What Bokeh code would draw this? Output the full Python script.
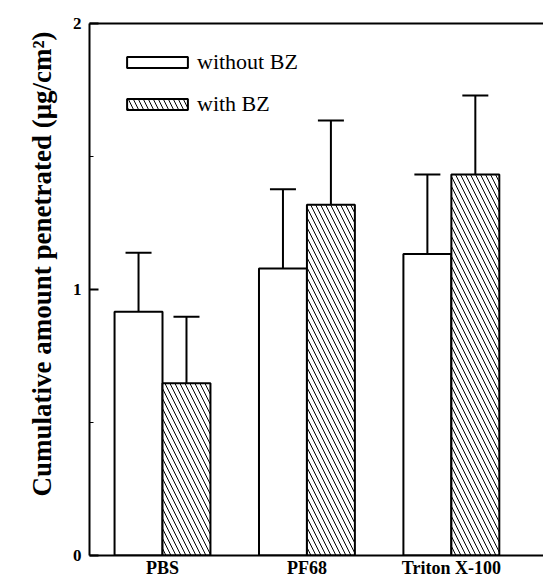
from bokeh.plotting import figure
from bokeh.models import (Range1d, FixedTicker, LinearAxis, Legend, LegendItem,
                          Title, ColumnDataSource, Whisker, TeeHead)
from bokeh.embed import file_html
from bokeh.resources import INLINE

# ---- data ----
categories = ["PBS", "PF68", "Triton X-100"]
without_bz = [0.916, 1.079, 1.133]
without_bz_err = [0.222, 0.298, 0.299]
with_bz = [0.648, 1.319, 1.432]
with_bz_err = [0.250, 0.316, 0.297]
y_ticks = [0, 1, 2]
y_minor_ticks = [0.5, 1.5]
series_names = ["without BZ", "with BZ"]

SERIF = "Liberation Serif"
BAR_W = 0.332
pos = [i + 1 for i in range(len(categories))]

p = figure(width=543, height=580, output_backend="svg", toolbar_location=None,
           x_range=Range1d(0.4945, 3.638), y_range=Range1d(0, 2))
p.min_border_left = 89
p.min_border_right = 0
p.min_border_top = 23
p.min_border_bottom = 0
p.outline_line_color = None
p.grid.visible = False
p.background_fill_color = "white"

src_wo = ColumnDataSource(dict(
    x=[v - BAR_W / 2 for v in pos], top=without_bz,
    up=[a + b for a, b in zip(without_bz, without_bz_err)]))
src_w = ColumnDataSource(dict(
    x=[v + BAR_W / 2 for v in pos], top=with_bz,
    up=[a + b for a, b in zip(with_bz, with_bz_err)]))

r_wo = p.vbar(x="x", top="top", bottom=0, width=BAR_W, source=src_wo,
              fill_color="white", line_color="black", line_width=2)
r_w = p.vbar(x="x", top="top", bottom=0, width=BAR_W, source=src_w,
             fill_color="white", line_color="black", line_width=2,
             hatch_pattern="\\", hatch_color="black", hatch_scale=10, hatch_weight=1)

for src in (src_wo, src_w):
    wk = Whisker(base="x", lower="top", upper="up", source=src,
                 line_color="black", line_width=2,
                 upper_head=TeeHead(size=26, line_width=2, line_color="black"),
                 lower_head=None, level="underlay")
    p.add_layout(wk)

# y axis
ya = p.yaxis[0]
ya.ticker = FixedTicker(ticks=y_ticks, minor_ticks=y_minor_ticks)
ya.major_tick_in = 9
ya.major_tick_out = 0
ya.minor_tick_in = 4
ya.minor_tick_out = 0
ya.axis_line_width = 2
ya.major_tick_line_width = 2
ya.minor_tick_line_width = 1
ya.major_label_text_font = SERIF
ya.major_label_text_font_style = "bold"
ya.major_label_text_font_size = "17px"
ya.major_label_text_color = "black"
ya.major_label_standoff = 8

# x axis
xa = p.xaxis[0]
xa.ticker = FixedTicker(ticks=pos)
xa.major_label_overrides = {v: c for v, c in zip(pos, categories)}
xa.major_tick_line_color = None
xa.major_tick_in = 0
xa.major_tick_out = 0
xa.minor_tick_line_color = None
xa.minor_tick_in = 0
xa.minor_tick_out = 0
xa.axis_line_width = 2
xa.axis_label_standoff = 0
xa.major_label_text_font = SERIF
xa.major_label_text_font_style = "bold"
xa.major_label_text_font_size = "18px"
xa.major_label_text_color = "black"
xa.major_label_standoff = 2

# top frame line
top_ax = LinearAxis(ticker=FixedTicker(ticks=[]), axis_line_width=2,
                    major_tick_line_color=None, minor_tick_line_color=None,
                    major_tick_in=0, major_tick_out=0,
                    minor_tick_in=0, minor_tick_out=0,
                    major_label_text_font_size="0px")
p.add_layout(top_ax, "above")

# y axis title
ttl = Title(text="Cumulative amount  penetrated (\u03bcg/cm\u00b2)", align="left",
            offset=59, standoff=26, text_font=SERIF, text_font_style="bold",
            text_font_size="27px", text_color="black")
p.add_layout(ttl, "left")

legend = Legend(items=[LegendItem(label=series_names[0], renderers=[r_wo]),
                       LegendItem(label=series_names[1], renderers=[r_w])],
                location=(30, 438), glyph_width=76, glyph_height=14,
                label_text_font=SERIF, label_text_font_size="22px",
                label_text_color="black",
                spacing=16, padding=0, margin=0, border_line_color=None,
                background_fill_alpha=0, label_standoff=2)
p.add_layout(legend)

open("out.html", "w").write(file_html(p, INLINE))
